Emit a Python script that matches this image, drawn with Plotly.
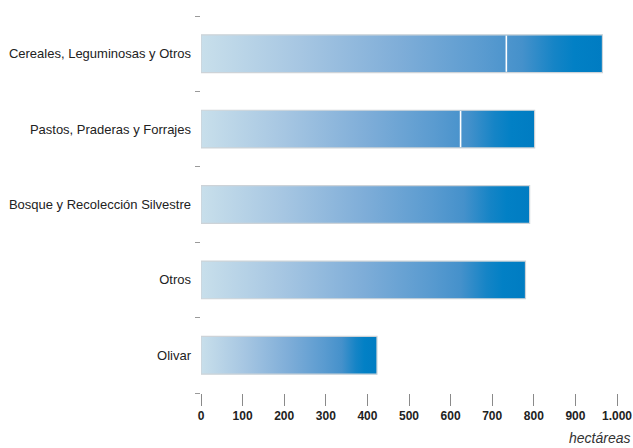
import plotly.graph_objects as go

# Superficie por tipo de cultivo (hectáreas), de abajo hacia arriba
categorias = ["Olivar", "Otros", "Bosque y Recolección Silvestre",
              "Pastos, Praderas y Forrajes", "Cereales, Leguminosas y Otros"]
totales = [423, 780, 790, 802, 965]
# Primer tramo de la barra (separado por una línea blanca); None si no hay división
tramo = [None, None, None, 624, 734]

x_ticks = list(range(0, 1001, 100))

escala = [[0.0, "#c8dfeb"], [0.25, "#a6c6e2"], [0.5, "#7eadd8"],
          [0.7, "#5a9bd0"], [0.8, "#4591cb"], [0.88, "#1584c6"],
          [0.93, "#0280c5"], [1.0, "#007cc2"]]
media = 0.25

fig = go.Figure()
for i, (cat, v) in enumerate(zip(categorias, totales)):
    fig.add_trace(go.Scatter(
        x=[0, v, v, 0, 0],
        y=[i - media, i - media, i + media, i + media, i - media],
        mode="lines", fill="toself",
        fillgradient=dict(type="horizontal", colorscale=escala),
        line=dict(color="#cdd3d8", width=1.2),
        hoverinfo="skip", showlegend=False, name=cat,
    ))
    if tramo[i] is not None:
        fig.add_trace(go.Scatter(
            x=[tramo[i], tramo[i]], y=[i - media + 0.01, i + media - 0.01],
            mode="lines", line=dict(color="white", width=1.6),
            hoverinfo="skip", showlegend=False,
        ))

# eje auxiliar con las marcas entre categorías
fig.add_trace(go.Scatter(x=[None], y=[None], yaxis="y2", showlegend=False))

fig.update_layout(
    width=633, height=448,
    margin=dict(l=201, r=16, t=16, b=55, autoexpand=False),
    paper_bgcolor="white", plot_bgcolor="white",
    separators=",.",
    font=dict(family="Liberation Sans, Arial, sans-serif", color="#222222", size=13),
    xaxis=dict(range=[0, 1000], tickvals=x_ticks, tickformat=",d", automargin=False,
               showgrid=False, zeroline=False, showline=False,
               ticks="outside", ticklen=12, tickwidth=1, tickcolor="#8a8a8a",
               tickfont=dict(size=12, color="#222222",
                             family="Liberation Sans, Arial, sans-serif", weight="bold")),
    yaxis=dict(range=[-0.5, 4.5], tickvals=list(range(len(categorias))),
               ticktext=categorias, showgrid=False, zeroline=False, showline=False,
               ticks="", ticklabelstandoff=9, automargin=False,
               tickfont=dict(size=13, color="#222222")),
    yaxis2=dict(range=[-0.5, 4.5], overlaying="y", side="left", automargin=False,
                tickvals=[k - 0.5 for k in range(len(categorias) + 1)],
                showticklabels=False, showgrid=False, zeroline=False, showline=False,
                ticks="outside", ticklen=5, tickwidth=1, tickcolor="#9a9a9a"),
    annotations=[dict(text="<i>hectáreas</i>", xref="paper", yref="paper",
                      x=1.036, y=-0.1455, xanchor="right", yanchor="bottom",
                      showarrow=False, font=dict(size=14, color="#333333"))],
)

fig.write_html("out.html")
